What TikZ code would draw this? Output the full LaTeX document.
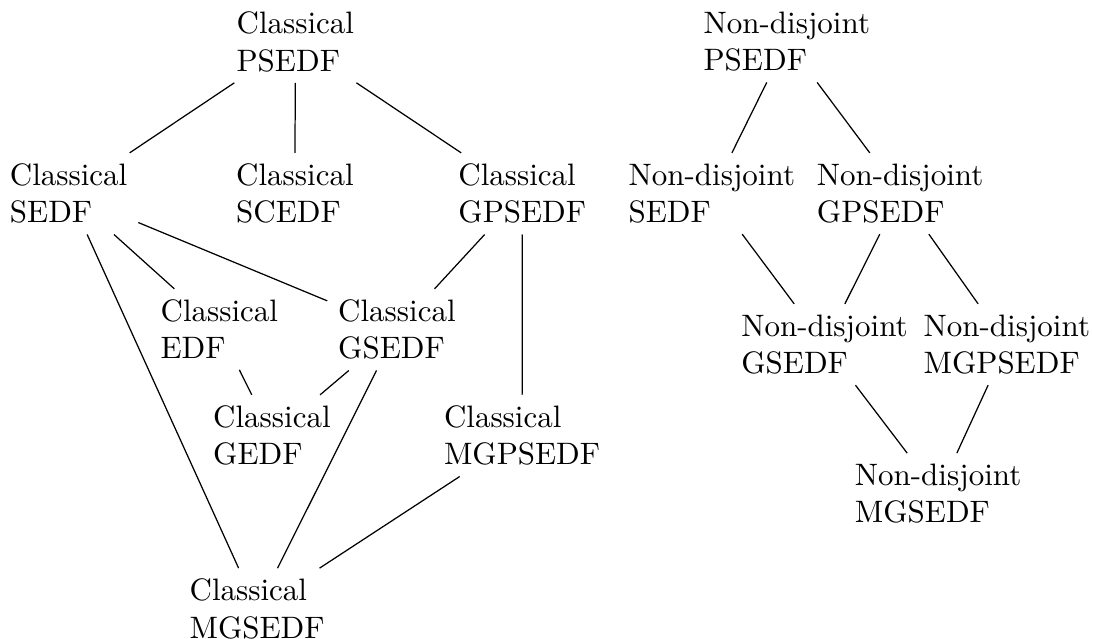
\documentclass[tikz,border=0pt]{standalone}
\begin{document}
\begin{tikzpicture}[x=0.32258pt, y=-0.32258pt,
  lbl/.style={anchor=north west, align=left, inner sep=3.333pt, xshift=-3.333pt, yshift=10.27pt},
  edge/.style={draw, line width=0.4pt}]
\useasboundingbox (0,0) rectangle (1093,639);
% Classical
\node[lbl] (cP)   at (236,33)      {Classical\\PSEDF};
\node[lbl] (cS)   at (9.3,184.7)   {Classical\\SEDF};
\node[lbl] (cSC)  at (235.6,184.7) {Classical\\SCEDF};
\node[lbl] (cGP)  at (457.8,184.7) {Classical\\GPSEDF};
\node[lbl] (cE)   at (160,320.7)   {Classical\\EDF};
\node[lbl] (cGS)  at (337.6,320.7) {Classical\\GSEDF};
\node[lbl] (cGE)  at (212.6,426.7) {Classical\\GEDF};
\node[lbl] (cMGP) at (443.4,426.7) {Classical\\MGPSEDF};
\node[lbl] (cMGS) at (189,600)     {Classical\\MGSEDF};
% Non-disjoint
\node[lbl] (nP)   at (703,33)      {Non-disjoint\\PSEDF};
\node[lbl] (nS)   at (628,184.7)   {Non-disjoint\\SEDF};
\node[lbl] (nGP)  at (816.3,184.7) {Non-disjoint\\GPSEDF};
\node[lbl] (nGS)  at (740.7,335.7) {Non-disjoint\\GSEDF};
\node[lbl] (nMGP) at (923,335.7)   {Non-disjoint\\MGPSEDF};
\node[lbl] (nMGS) at (854.3,485)   {Non-disjoint\\MGSEDF};
% edges
\path[edge] (cP) -- (cS);
\path[edge] (cP) -- (cSC);
\path[edge] (cP) -- (cGP);
\path[edge] (cS) -- (cE);
\path[edge] (cS) -- (cGS);
\path[edge] (cS) -- (cMGS);
\path[edge] (cGP) -- (cGS);
\path[edge] (cGP) -- (cMGP);
\path[edge] (cE) -- (cGE);
\path[edge] (cGS) -- (cGE);
\path[edge] (cGS) -- (cMGS);
\path[edge] (cMGP) -- (cMGS);
\path[edge] (nP) -- (nS);
\path[edge] (nP) -- (nGP);
\path[edge] (nS) -- (nGS);
\path[edge] (nGP) -- (nGS);
\path[edge] (nGP) -- (nMGP);
\path[edge] (nGS) -- (nMGS);
\path[edge] (nMGP) -- (nMGS);
\end{tikzpicture}
\end{document}
